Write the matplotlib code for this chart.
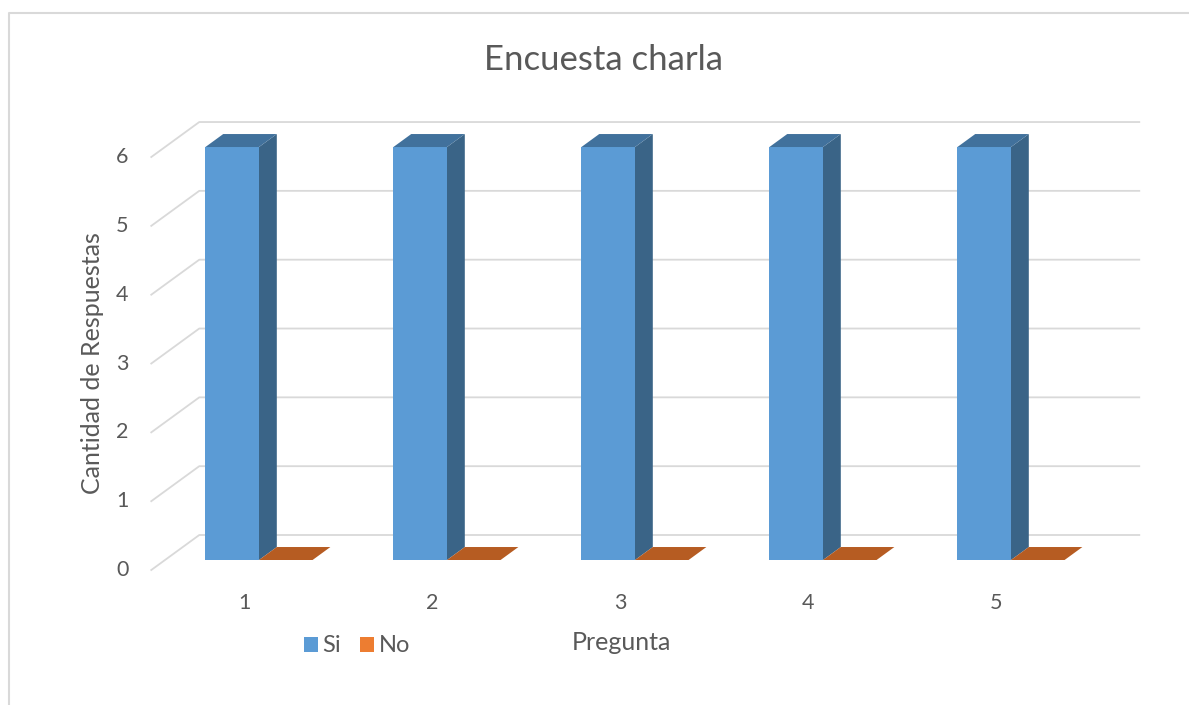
import matplotlib
matplotlib.use("Agg")
import matplotlib.pyplot as plt
from matplotlib.patches import Polygon, Patch
from matplotlib.lines import Line2D

# ---- data ----
categories = [1, 2, 3, 4, 5]
series_names = ["Si", "No"]
si_values = [6, 6, 6, 6, 6]
no_values = [0, 0, 0, 0, 0]
y_ticks = [0, 1, 2, 3, 4, 5, 6]
title = "Encuesta charla"
x_label = "Pregunta"
y_label = "Cantidad de Respuestas"

# ---- style ----
plt.rcParams['font.family'] = ['Lato', 'DejaVu Sans']
TXT = "#595959"
GRID = "#D9D9D9"
BLUE_FRONT, BLUE_SIDE, BLUE_TOP = "#5B9BD5", "#3A6487", "#41719C"
ORANGE, ORANGE_TOP = "#ED7D31", "#B65C22"

W, H = 1189, 705
PX_X = 188.0      # px per category
PX_Y = 68.83      # px per value unit
CX1, Y0PX = 259.0, 560.0   # pixel pos of category 1 / value 0 in bar plane
DX_PX, DY_PX = 48.0, 35.0  # depth projection (full depth) in px
D_BAR0, D_BAR1 = 0.286, 0.657
BAR_W = 0.285

fig = plt.figure(figsize=(W / 100, H / 100), dpi=100)
ax = fig.add_axes([0, 0, 1, 1])
ax.set_xlim(1 - CX1 / PX_X, 1 + (W - CX1) / PX_X)
ax.set_ylim((Y0PX - H) / PX_Y, Y0PX / PX_Y)
ax.axis('off')


def proj(x, y, d):
    """bar-plane data coords + depth d (0 front of floor, 1 back wall)."""
    return (x + (d - D_BAR0) * DX_PX / PX_X, y + (d - D_BAR0) * DY_PX / PX_Y)


xl, xr = categories[0] - 0.5, categories[-1] + 0.5

# gridlines: back wall + left side wall
for v in y_ticks:
    a, b = proj(xl, v, 0), proj(xl, v, 1)
    c = proj(xr, v, 1)
    ax.add_line(Line2D([a[0], b[0], c[0]], [a[1], b[1], c[1]], color=GRID, lw=1.3, zorder=1))
    ax.annotate(str(v), xy=a, xytext=(-29 * 0.72, 0), textcoords='offset points',
                ha='center', va='center', fontsize=15.5, color=TXT)


def box(x0, x1, h, front, side, top):
    pts_front = [proj(x0, 0, D_BAR0), proj(x1, 0, D_BAR0), proj(x1, h, D_BAR0), proj(x0, h, D_BAR0)]
    pts_side = [proj(x1, 0, D_BAR0), proj(x1, 0, D_BAR1), proj(x1, h, D_BAR1), proj(x1, h, D_BAR0)]
    pts_top = [proj(x0, h, D_BAR0), proj(x1, h, D_BAR0), proj(x1, h, D_BAR1), proj(x0, h, D_BAR1)]
    if h > 0:
        ax.add_patch(Polygon(pts_front, closed=True, fc=front, ec='none', zorder=3))
        ax.add_patch(Polygon(pts_side, closed=True, fc=side, ec='none', zorder=3))
    ax.add_patch(Polygon(pts_top, closed=True, fc=top, ec='none', zorder=3))


for c, s, n in zip(categories, si_values, no_values):
    box(c - BAR_W, c, s, BLUE_FRONT, BLUE_SIDE, BLUE_TOP)
    box(c, c + BAR_W, n, ORANGE, ORANGE_TOP, ORANGE_TOP)
    ax.annotate(str(c), xy=proj(c, 0, 0), xytext=(-1 * 0.72, -33 * 0.72), textcoords='offset points',
                ha='center', va='center', fontsize=15.5, color=TXT)

fig.text(604 / W, 1 - 60 / H, title, ha='center', va='center', fontsize=25, color=TXT)
fig.text(92 / W, 1 - 363 / H, y_label, ha='center', va='center', rotation=90, fontsize=18, color=TXT)
fig.text(621 / W, 1 - 643 / H, x_label, ha='center', va='center', fontsize=18, color=TXT)

handles = [Patch(fc=BLUE_FRONT, ec='none'), Patch(fc=ORANGE, ec='none')]
fig.legend(handles, series_names, loc='center', bbox_to_anchor=(357 / W, 1 - 646 / H), ncol=2,
           frameon=False, handlelength=0.58, handleheight=0.58, handletextpad=0.2,
           columnspacing=0.8, fontsize=17, labelcolor=TXT)

# chart border (left and top visible)
fig.add_artist(Line2D([9 / W, 9 / W, 1], [0, 1 - 13 / H, 1 - 13 / H], transform=fig.transFigure,
                      color=GRID, lw=1.5))

fig.savefig("out.png", dpi=100, facecolor="white")
